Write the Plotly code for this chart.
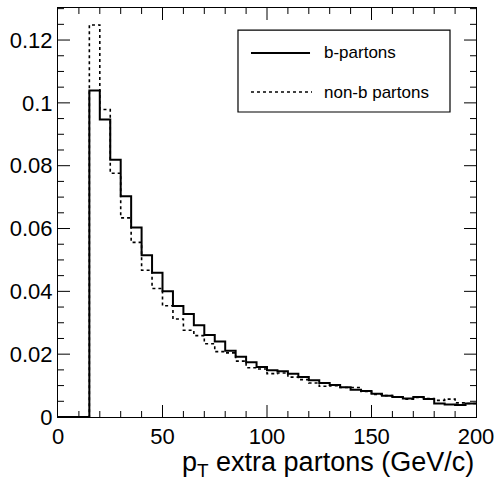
import plotly.graph_objects as go

# ---- data ----
bin_low = [0, 15, 20, 25, 30, 35, 40, 45, 50, 55, 60, 65, 70, 75, 80, 85, 90, 95,
           100, 105, 110, 115, 120, 125, 130, 135, 140, 145, 150, 155, 160, 165,
           170, 175, 180, 185, 190, 195]
x_max = 200

b_partons = [0.0, 0.1039, 0.0947, 0.0819, 0.0703, 0.0603, 0.0515, 0.0459, 0.0400,
             0.0353, 0.0328, 0.0292, 0.0261, 0.0240, 0.0211, 0.0192, 0.0174, 0.0159,
             0.0149, 0.0146, 0.0138, 0.0127, 0.0117, 0.0108, 0.0102, 0.0095, 0.0087,
             0.0083, 0.0074, 0.0068, 0.0064, 0.0059, 0.0064, 0.0057, 0.0043, 0.0040,
             0.0038, 0.0043]

nonb_partons = [0.0, 0.1248, 0.0979, 0.0776, 0.0634, 0.0556, 0.0467, 0.0409, 0.0354,
                0.0312, 0.0276, 0.0259, 0.0233, 0.0208, 0.0204, 0.0178, 0.0157, 0.0153,
                0.0138, 0.0140, 0.0127, 0.0119, 0.0108, 0.0098, 0.0100, 0.0094, 0.0094,
                0.0081, 0.0072, 0.0068, 0.0064, 0.0057, 0.0062, 0.0059, 0.0053, 0.0057,
                0.0045, 0.0043]

x_tickvals = [0, 50, 100, 150, 200]
x_ticktext = ["0", "50", "100", "150", "200"]
y_tickvals = [0, 0.02, 0.04, 0.06, 0.08, 0.1, 0.12]
y_ticktext = ["0", "0.02", "0.04", "0.06", "0.08", "0.1", "0.12"]
x_minor_step = 10
y_minor_step = 0.005

series_names = ["b-partons", "non-b partons"]
x_title = "p<sub>T</sub> extra partons (GeV/c)"

X_RANGE = [0, 200]
Y_RANGE = [0, 0.1302]
FONT = "Liberation Sans, Arial, Helvetica, sans-serif"

def step(vals):
    return bin_low + [x_max], vals + [vals[-1]]

fig = go.Figure()
xs, ys = step(nonb_partons)
fig.add_trace(go.Scatter(x=xs, y=ys, mode="lines", line_shape="hv",
                         line=dict(color="black", width=1.6, dash="dot"),
                         name=series_names[1], showlegend=False))
xs, ys = step(b_partons)
fig.add_trace(go.Scatter(x=xs, y=ys, mode="lines", line_shape="hv",
                         line=dict(color="black", width=2),
                         name=series_names[0], showlegend=False))

axis_common = dict(showline=True, linecolor="black", mirror=True, ticks="",
                   tickfont=dict(family=FONT, size=22, color="black"))

fig.update_xaxes(range=X_RANGE, tickvals=x_tickvals, ticktext=x_ticktext, **axis_common)
fig.update_yaxes(range=Y_RANGE, tickvals=y_tickvals, ticktext=y_ticktext, **axis_common)

# inward ROOT-style ticks on all four sides, placed through the axes' own scales
tick_line = dict(color="black", width=1)
x_minor = [i * x_minor_step for i in range(int(X_RANGE[1] / x_minor_step) + 1)]
y_minor = [round(i * y_minor_step, 4) for i in range(int(Y_RANGE[1] / y_minor_step) + 1)]
for v in x_minor:
    if v <= X_RANGE[0] or v >= X_RANGE[1]:
        continue
    ln = 12 if v in x_tickvals else 6
    fig.add_shape(type="line", xref="x", yref="paper", ysizemode="pixel", yanchor=0,
                  x0=v, x1=v, y0=0, y1=ln, line=tick_line, layer="above")
    fig.add_shape(type="line", xref="x", yref="paper", ysizemode="pixel", yanchor=1,
                  x0=v, x1=v, y0=0, y1=-ln, line=tick_line, layer="above")
for v in y_minor:
    if v <= Y_RANGE[0] or v >= Y_RANGE[1]:
        continue
    ln = 12 if any(abs(v - t) < 1e-9 for t in y_tickvals) else 6
    fig.add_shape(type="line", xref="paper", yref="y", xsizemode="pixel", xanchor=0,
                  x0=0, x1=ln, y0=v, y1=v, line=tick_line, layer="above")
    fig.add_shape(type="line", xref="paper", yref="y", xsizemode="pixel", xanchor=1,
                  x0=0, x1=-ln, y0=v, y1=v, line=tick_line, layer="above")

# legend box (ROOT style)
fig.add_shape(type="rect", xref="paper", yref="paper", x0=0.4306, x1=0.9378,
              y0=0.7457, y1=0.946, line=dict(color="black", width=1.2),
              fillcolor="white", layer="above")
fig.add_shape(type="line", xref="paper", yref="paper", x0=0.4617, x1=0.6029,
              y0=0.89, y1=0.89, line=dict(color="black", width=2))
fig.add_shape(type="line", xref="paper", yref="paper", x0=0.4617, x1=0.6077,
              y0=0.7946, y1=0.7946, line=dict(color="black", width=1.6, dash="dot"))
fig.add_annotation(xref="paper", yref="paper", x=0.631, y=0.89, text=series_names[0],
                   showarrow=False, xanchor="left", yanchor="middle",
                   font=dict(family=FONT, size=17, color="black"))
fig.add_annotation(xref="paper", yref="paper", x=0.631, y=0.7946, text=series_names[1],
                   showarrow=False, xanchor="left", yanchor="middle",
                   font=dict(family=FONT, size=17, color="black"))

# x-axis title (right aligned)
fig.add_annotation(xref="paper", yref="paper", x=1.0, y=-0.115, text=x_title,
                   showarrow=False, xanchor="right", yanchor="middle",
                   font=dict(family=FONT, size=27, color="black"))

fig.update_layout(width=498, height=487,
                  margin=dict(l=58, r=22, t=8, b=70, autoexpand=False),
                  paper_bgcolor="white", plot_bgcolor="white", showlegend=False)

fig.write_html("out.html", config={"displayModeBar": False},
               post_script="document.body.style.margin='0px';")
